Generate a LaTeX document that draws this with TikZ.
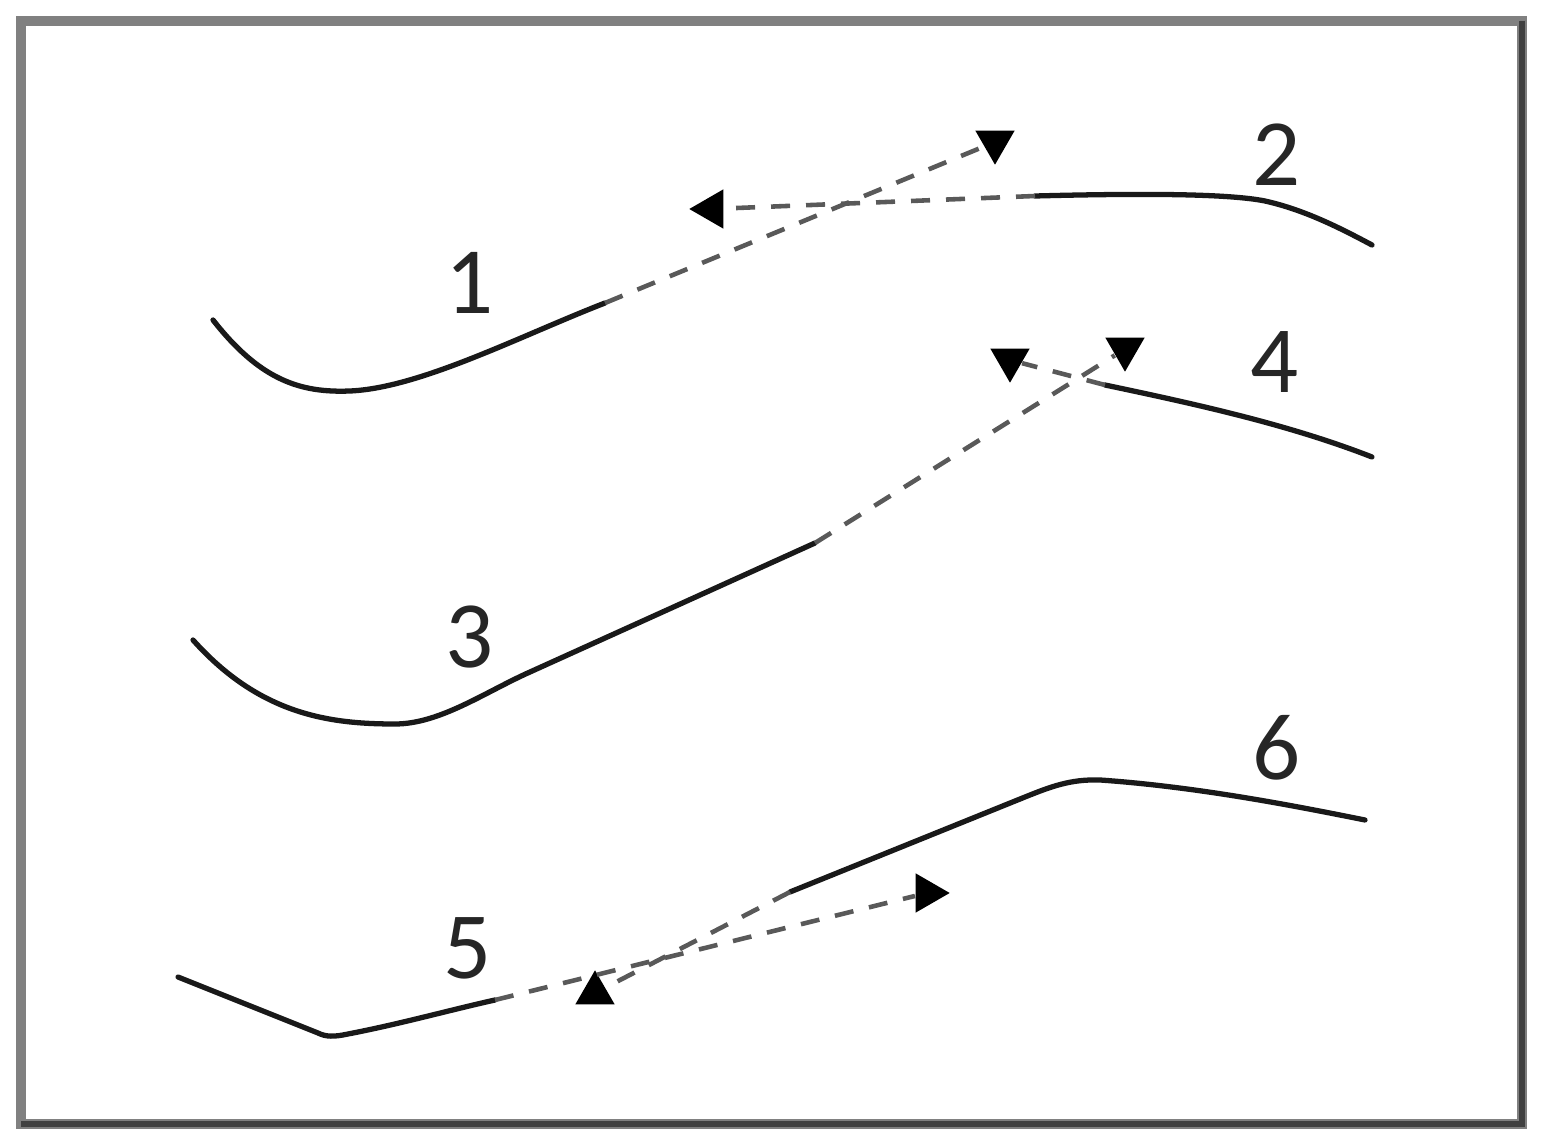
\documentclass[tikz,border=0pt]{standalone}
\usepackage{fontspec}
\setmainfont{Carlito}
\usetikzlibrary{shapes.geometric,positioning}
\tikzstyle{curve} = [draw=black!90, line width=1.5pt, line cap=round]
\tikzstyle{extra} = [draw=black!65, line width=1.3pt, dash pattern=on 0.19cm off 0.16cm]
\tikzstyle{tip} = [isosceles triangle, isosceles triangle apex angle=60, fill=black, inner sep=0pt, minimum size=0.34cm]
\tikzstyle{num} = [font=\fontsize{27}{30}\selectfont, text=black!85, inner sep=0pt]

\begin{document}
\begin{tikzpicture}[x=0.01cm, y=-0.01cm]
\useasboundingbox (0,0) rectangle (1550,1146);

% frame =============================
\draw[black!50, line width=2.8pt] (21,21) rectangle (1522,1124);
\draw[black!75, line width=1.5pt] (1522,21) -- (1522,1124) -- (21,1124);

% where the solid part stops
\coordinate (j1) at (605,303);
\coordinate (j2) at (1035,196);
\coordinate (j3) at (815,543);
\coordinate (j4) at (1105,385);
\coordinate (j5) at (495,1000);
\coordinate (j6) at (790,892);

% arrow tips
\node[tip, shape border rotate=-90] (t1) at (995,142) {};
\node[tip, shape border rotate=180] (t2) at (712,209) {};
\node[tip, shape border rotate=-90] (t3) at (1125,349) {};
\node[tip, shape border rotate=-78] (t4) at (1010,360) {};
\node[tip, shape border rotate=8] (t5) at (927,893) {};
\node[tip, shape border rotate=90] (t6) at (595,993) {};

% labels
\node[num] (n1) at (470,283) {1};
\node[num] (n2) at (1277,155) {2};
\node[num] (n3) at (470,637) {3};
\node[num] (n4) at (1275,362) {4};
\node[num] (n5) at (468,948) {5};
\node[num] (n6) at (1277,748) {6};

% solid curves
\path[curve] (213,320) .. controls (260,380) and (300,393) .. (350,391) .. controls (420,388) and (520,336) .. (j1);
\path[curve] (j2) .. controls (1150,193) and (1230,194) .. (1265,201) .. controls (1305,210) and (1340,228) .. (1372,245);
\path[curve] (193,640) .. controls (260,715) and (330,724) .. (395,724) .. controls (440,724) and (485,692) .. (530,672) -- (j3);
\path[curve] (j4) .. controls (1200,405) and (1290,425) .. (1372,457);
\path[curve] (178,977) -- (318,1033) .. controls (326,1037) and (334,1037) .. (348,1034) .. controls (400,1024) and (450,1010) .. (j5);
\path[curve] (j6) -- (1025,797) .. controls (1050,787) and (1070,779) .. (1100,780) .. controls (1200,787) and (1300,807) .. (1365,820);

% dashed parts
\path[extra] (j1) -- (t1);
\path[extra] (j2) -- (t2);
\path[extra] (j3) -- (t3);
\path[extra] (j4) -- (t4);
\path[extra] (j5) -- (t5);
\path[extra] (j6) -- (t6);

\end{tikzpicture}
\end{document}
